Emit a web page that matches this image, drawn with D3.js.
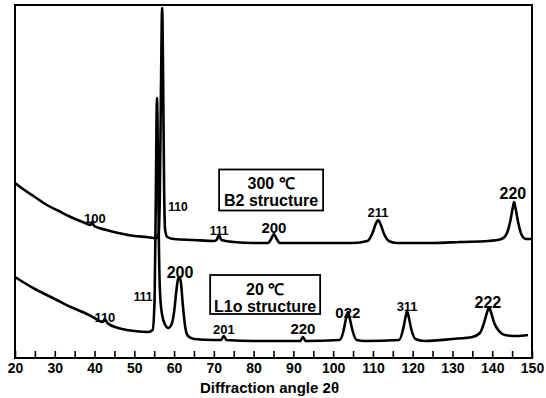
<!DOCTYPE html>
<html><head><meta charset="utf-8">
<script src="https://cdn.jsdelivr.net/npm/d3@7"></script>
<style>body{margin:0;background:#fff}svg{display:block}</style>
</head><body><svg id="c" width="546" height="398"></svg>
<script>
// ---- data (2θ in degrees, intensity in arbitrary units) ----
const upperAngle = [20,22,25,28,31,34,37,39,39.4,39.9,43,46,50,53,55.6,56.1,56.4,56.7,57.0,57.25,57.5,57.75,58.3,60,65,70,70.7,71.3,71.9,75,80,83.6,84.4,85.1,85.8,86.6,95,105,108.6,109.9,110.7,111.3,111.9,112.7,114,116,125,132,139,142.3,143.6,144.6,145.2,145.5,145.8,146.5,147.4,148.5,150];
const upperIntensity = [175,169,161,153,147,141,136,133,136,132,128,125,122,121,120,124,158,268,350,278,168,128,121,119,118,117,118,123,118,116,115,115,119,124,119,115,115,115,117,125,134,138,134,125,117,115,115,116,117,119,124,138,151,156,151,136,123,119,119];

const lowerAngle = [20,22,25,28,31,34,37,40,42.0,42.6,43.2,46,50,53.5,54.6,55.1,55.4,55.7,55.95,56.2,56.5,57,57.8,58.5,59.3,60.0,60.6,61.0,61.3,61.7,62.2,62.8,63.5,65,70,71.8,72.5,73.2,80,91.7,92.4,93.1,101.6,102.6,103.2,103.7,104.2,104.9,105.9,108,116.6,117.6,118.2,118.6,119.0,119.7,120.7,123,130,135,136.9,138.0,138.8,139.2,139.6,140.5,141.7,143.2,146,149];
const lowerIntensity = [81,76,69,63,57,51,46,40,36,39,35,30,27,26,28,58,158,260,198,108,63,43,33,30,33,46,68,79,81,76,53,31,22,19,18,18,22,18,17,17,21,17,18,27,39,46,39,27,18,17,18,29,41,47,41,28,19,17,19,21,25,36,47,51,47,35,27,23,22,23];

const upperPeakLabels = ["100","110","111","200","211","220"];
const upperLabelAngle = [40.1,61.0,71.3,85.1,111.3,145.2];
const upperLabelIntensity = [140,151,127,130,146,165];

const lowerPeakLabels = ["110","111","200","201","220","022","311","222"];
const lowerLabelAngle = [42.6,52.2,61.5,72.5,92.4,103.7,118.6,138.9];
const lowerLabelIntensity = [41,61,86,29,29,45,52,56];

const xTicks = [20,25,30,35,40,45,50,55,60,65,70,75,80,85,90,95,100,105,110,115,120,125,130,135,140,145,150];
const xLabel = "Diffraction angle 2θ";
const upperBoxText = ["300 ℃","B2 structure"];
const lowerBoxText = ["20 ℃","L1o structure"];
const upperBoxCenter = [84.4,168];
const lowerBoxCenter = [82.9,63.5];

// ---- styles ----
const upperLabelSize = [13,12,12,15,13,16];
const lowerLabelSize = [13,12,16,13,15,15,13,16];
const FONT = "'Liberation Sans', Arial, sans-serif";

const svg = d3.select("#c");
const x = d3.scaleLinear().domain([20,150]).range([15,532]);
const y = d3.scaleLinear().domain([0,353]).range([358,5]);

const line = d3.line().x(d=>x(d[0])).y(d=>y(d[1])).curve(d3.curveMonotoneX);

svg.append("path").datum(d3.zip(upperAngle,upperIntensity))
  .attr("d",line).attr("fill","none").attr("stroke","#000")
  .attr("stroke-width",2.6).attr("stroke-linejoin","round");
svg.append("path").datum(d3.zip(lowerAngle,lowerIntensity))
  .attr("d",line).attr("fill","none").attr("stroke","#000")
  .attr("stroke-width",2.6).attr("stroke-linejoin","round");

// frame
svg.append("rect").attr("x",x(20)).attr("y",y(353))
  .attr("width",x(150)-x(20)).attr("height",y(0)-y(353))
  .attr("fill","none").attr("stroke","#000").attr("stroke-width",2);

// bottom axis
const ax = svg.append("g").attr("transform",`translate(0,${y(0)})`)
  .call(d3.axisBottom(x).tickValues(xTicks).tickSize(-7).tickPadding(5)
    .tickFormat(d=> d%10===0 ? d : ""));
ax.select(".domain").remove();
ax.selectAll(".tick line").attr("stroke","#000").attr("stroke-width",1.6);
ax.selectAll(".tick text").attr("font-family",FONT).attr("font-size",14)
  .attr("font-weight","bold").attr("fill","#000");

svg.append("text").attr("x",x(84)).attr("y",393).attr("text-anchor","middle")
  .attr("font-family",FONT).attr("font-size",15).attr("font-weight","bold")
  .text(xLabel);

// peak labels
function labels(txt, ang, inten, size){
  svg.append("g").selectAll("text").data(txt).join("text")
    .attr("x",(d,i)=>x(ang[i])).attr("y",(d,i)=>y(inten[i]))
    .attr("dy","0.36em").attr("text-anchor","middle")
    .attr("font-family",FONT).attr("font-weight","bold")
    .attr("font-size",(d,i)=>size[i]).text(d=>d);
}
labels(upperPeakLabels,upperLabelAngle,upperLabelIntensity,upperLabelSize);
labels(lowerPeakLabels,lowerLabelAngle,lowerLabelIntensity,lowerLabelSize);

// boxes
function box(c, w, h, lines){
  const cx = x(c[0]), cy = y(c[1]);
  svg.append("rect").attr("x",cx-w/2).attr("y",cy-h/2).attr("width",w).attr("height",h)
    .attr("fill","#fff").attr("stroke","#000").attr("stroke-width",1.8);
  lines.forEach((t,i)=>{
    svg.append("text").attr("x",cx).attr("y",cy-h/2+ (i===0?14:31)).attr("dy","0.36em")
      .attr("text-anchor","middle").attr("font-family",FONT).attr("font-size",16)
      .attr("font-weight","bold").text(t);
  });
}
box(upperBoxCenter,104,41,upperBoxText);
box(lowerBoxCenter,110,39,lowerBoxText);
</script></body></html>
